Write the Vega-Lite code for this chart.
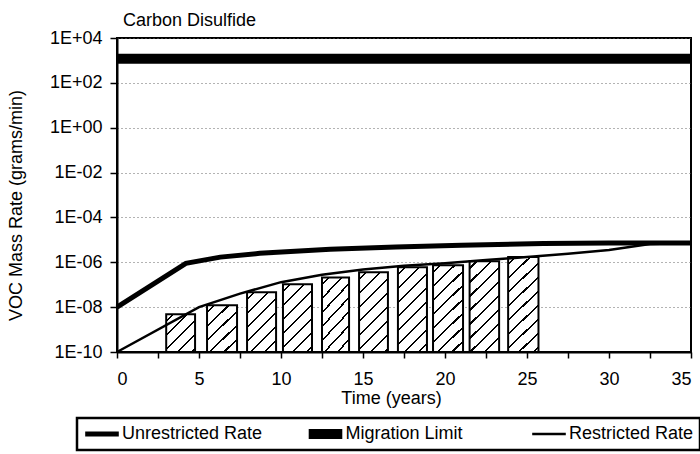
{
"$schema": "https://vega.github.io/schema/vega-lite/v6.json",
"width": 574, "height": 314,
"autosize": {"type": "none"},
"padding": {"left": 117, "top": 38, "right": 9, "bottom": 102},
"background": "white",
"title": {"text": "Carbon Disulfide", "anchor": "start", "frame": "group", "offset": 11, "baseline": "alphabetic", "dx": 6, "dy": 26, "fontSize": 18, "fontWeight": "normal", "color": "black"},
"datasets": {
"bars": [
{"id": 1, "start": 3.0, "end": 4.76, "v": 4.8e-9},
{"id": 2, "start": 5.49, "end": 7.32, "v": 1.2e-8},
{"id": 3, "start": 7.93, "end": 9.7, "v": 4.6e-8},
{"id": 4, "start": 10.12, "end": 11.89, "v": 1.05e-7},
{"id": 5, "start": 12.5, "end": 14.15, "v": 2.1e-7},
{"id": 6, "start": 14.76, "end": 16.52, "v": 3.6e-7},
{"id": 7, "start": 17.13, "end": 18.9, "v": 6.0e-7},
{"id": 8, "start": 19.27, "end": 21.1, "v": 7.4e-7},
{"id": 9, "start": 21.5, "end": 23.3, "v": 1.1e-6},
{"id": 10, "start": 23.85, "end": 25.7, "v": 1.7e-6}
],
"lines": [
{"series": "Migration Limit", "t": 0, "v": 1200},
{"series": "Migration Limit", "t": 35, "v": 1200},
{"series": "Unrestricted Rate", "t": 0, "v": 1e-8},
{"series": "Unrestricted Rate", "t": 4.2, "v": 9e-7},
{"series": "Unrestricted Rate", "t": 6.3, "v": 1.7e-6},
{"series": "Unrestricted Rate", "t": 8.7, "v": 2.5e-6},
{"series": "Unrestricted Rate", "t": 13, "v": 3.8e-6},
{"series": "Unrestricted Rate", "t": 17, "v": 4.8e-6},
{"series": "Unrestricted Rate", "t": 21, "v": 5.8e-6},
{"series": "Unrestricted Rate", "t": 26, "v": 6.8e-6},
{"series": "Unrestricted Rate", "t": 30, "v": 7.2e-6},
{"series": "Unrestricted Rate", "t": 35, "v": 7.3e-6},
{"series": "Restricted Rate", "t": 0, "v": 1e-10},
{"series": "Restricted Rate", "t": 5, "v": 1e-8},
{"series": "Restricted Rate", "t": 7.5, "v": 4e-8},
{"series": "Restricted Rate", "t": 10, "v": 1.3e-7},
{"series": "Restricted Rate", "t": 12.5, "v": 2.8e-7},
{"series": "Restricted Rate", "t": 15, "v": 4.8e-7},
{"series": "Restricted Rate", "t": 17.5, "v": 7e-7},
{"series": "Restricted Rate", "t": 20, "v": 9e-7},
{"series": "Restricted Rate", "t": 22.5, "v": 1.25e-6},
{"series": "Restricted Rate", "t": 25, "v": 1.7e-6},
{"series": "Restricted Rate", "t": 27.5, "v": 2.4e-6},
{"series": "Restricted Rate", "t": 30, "v": 3.5e-6},
{"series": "Restricted Rate", "t": 32.5, "v": 6.5e-6},
{"series": "Restricted Rate", "t": 35, "v": 7.3e-6}
]
},
"layer": [
{
"data": {"name": "bars"},
"mark": {"type": "rect", "stroke": "black", "strokeWidth": 2},
"encoding": {
"x": {"field": "start", "type": "quantitative", "scale": {"domain": [0, 35], "nice": false, "zero": false}},
"x2": {"field": "end"},
"y": {"field": "v", "type": "quantitative", "scale": {"type": "log", "domain": [1e-10, 10000], "nice": false}},
"y2": {"datum": 1e-10},
"fill": {"condition": [
{"test": "datum.id === 1", "value": {"gradient": "linear", "x1": 0, "y1": 0, "x2": 0.855, "y2": 1.112, "stops": [
{"offset": 0, "color": "#fff"},
{"offset": 0.0885, "color": "#fff"},{"offset": 0.0885, "color": "#000"},{"offset": 0.1214, "color": "#000"},{"offset": 0.1214, "color": "#fff"},
{"offset": 0.2984, "color": "#fff"},{"offset": 0.2984, "color": "#000"},{"offset": 0.3313, "color": "#000"},{"offset": 0.3313, "color": "#fff"},
{"offset": 0.5082, "color": "#fff"},{"offset": 0.5082, "color": "#000"},{"offset": 0.5412, "color": "#000"},{"offset": 0.5412, "color": "#fff"},
{"offset": 0.7181, "color": "#fff"},{"offset": 0.7181, "color": "#000"},{"offset": 0.7511, "color": "#000"},{"offset": 0.7511, "color": "#fff"},
{"offset": 0.928, "color": "#fff"},{"offset": 0.928, "color": "#000"},{"offset": 0.961, "color": "#000"},{"offset": 0.961, "color": "#fff"},
{"offset": 1, "color": "#fff"}]}},
{"test": "datum.id === 2", "value": {"gradient": "linear", "x1": 0, "y1": 0, "x2": 0.7265, "y2": 1.17, "stops": [
{"offset": 0, "color": "#fff"},
{"offset": 0.0779, "color": "#fff"},{"offset": 0.0779, "color": "#000"},{"offset": 0.107, "color": "#000"},{"offset": 0.107, "color": "#fff"},
{"offset": 0.2629, "color": "#fff"},{"offset": 0.2629, "color": "#000"},{"offset": 0.2919, "color": "#000"},{"offset": 0.2919, "color": "#fff"},
{"offset": 0.4478, "color": "#fff"},{"offset": 0.4478, "color": "#000"},{"offset": 0.4769, "color": "#000"},{"offset": 0.4769, "color": "#fff"},
{"offset": 0.6328, "color": "#fff"},{"offset": 0.6328, "color": "#000"},{"offset": 0.6618, "color": "#000"},{"offset": 0.6618, "color": "#fff"},
{"offset": 0.8177, "color": "#fff"},{"offset": 0.8177, "color": "#000"},{"offset": 0.8468, "color": "#000"},{"offset": 0.8468, "color": "#fff"},
{"offset": 1, "color": "#fff"}]}},
{"test": "datum.id === 3", "value": {"gradient": "linear", "x1": 0, "y1": 0, "x2": 0.5839, "y2": 1.2021, "stops": [
{"offset": 0, "color": "#fff"},
{"offset": 0.0665, "color": "#fff"},{"offset": 0.0665, "color": "#000"},{"offset": 0.0913, "color": "#000"},{"offset": 0.0913, "color": "#fff"},
{"offset": 0.2244, "color": "#fff"},{"offset": 0.2244, "color": "#000"},{"offset": 0.2492, "color": "#000"},{"offset": 0.2492, "color": "#fff"},
{"offset": 0.3822, "color": "#fff"},{"offset": 0.3822, "color": "#000"},{"offset": 0.407, "color": "#000"},{"offset": 0.407, "color": "#fff"},
{"offset": 0.54, "color": "#fff"},{"offset": 0.54, "color": "#000"},{"offset": 0.5648, "color": "#000"},{"offset": 0.5648, "color": "#fff"},
{"offset": 0.6979, "color": "#fff"},{"offset": 0.6979, "color": "#000"},{"offset": 0.7227, "color": "#000"},{"offset": 0.7227, "color": "#fff"},
{"offset": 0.8557, "color": "#fff"},{"offset": 0.8557, "color": "#000"},{"offset": 0.8805, "color": "#000"},{"offset": 0.8805, "color": "#fff"},
{"offset": 1, "color": "#fff"}]}},
{"test": "datum.id === 4", "value": {"gradient": "linear", "x1": 0, "y1": 0, "x2": 0.517, "y2": 1.207, "stops": [
{"offset": 0, "color": "#fff"},
{"offset": 0.061, "color": "#fff"},{"offset": 0.061, "color": "#000"},{"offset": 0.0838, "color": "#000"},{"offset": 0.0838, "color": "#fff"},
{"offset": 0.2058, "color": "#fff"},{"offset": 0.2058, "color": "#000"},{"offset": 0.2285, "color": "#000"},{"offset": 0.2285, "color": "#fff"},
{"offset": 0.3506, "color": "#fff"},{"offset": 0.3506, "color": "#000"},{"offset": 0.3733, "color": "#000"},{"offset": 0.3733, "color": "#fff"},
{"offset": 0.4953, "color": "#fff"},{"offset": 0.4953, "color": "#000"},{"offset": 0.5181, "color": "#000"},{"offset": 0.5181, "color": "#fff"},
{"offset": 0.6401, "color": "#fff"},{"offset": 0.6401, "color": "#000"},{"offset": 0.6629, "color": "#000"},{"offset": 0.6629, "color": "#fff"},
{"offset": 0.7849, "color": "#fff"},{"offset": 0.7849, "color": "#000"},{"offset": 0.8077, "color": "#000"},{"offset": 0.8077, "color": "#fff"},
{"offset": 0.9297, "color": "#fff"},{"offset": 0.9297, "color": "#000"},{"offset": 0.9524, "color": "#000"},{"offset": 0.9524, "color": "#fff"},
{"offset": 1, "color": "#fff"}]}},
{"test": "datum.id === 5", "value": {"gradient": "linear", "x1": 0, "y1": 0, "x2": 0.4697, "y2": 1.2065, "stops": [
{"offset": 0, "color": "#fff"},
{"offset": 0.057, "color": "#fff"},{"offset": 0.057, "color": "#000"},{"offset": 0.0783, "color": "#000"},{"offset": 0.0783, "color": "#fff"},
{"offset": 0.1923, "color": "#fff"},{"offset": 0.1923, "color": "#000"},{"offset": 0.2135, "color": "#000"},{"offset": 0.2135, "color": "#fff"},
{"offset": 0.3275, "color": "#fff"},{"offset": 0.3275, "color": "#000"},{"offset": 0.3488, "color": "#000"},{"offset": 0.3488, "color": "#fff"},
{"offset": 0.4628, "color": "#fff"},{"offset": 0.4628, "color": "#000"},{"offset": 0.4841, "color": "#000"},{"offset": 0.4841, "color": "#fff"},
{"offset": 0.5981, "color": "#fff"},{"offset": 0.5981, "color": "#000"},{"offset": 0.6193, "color": "#000"},{"offset": 0.6193, "color": "#fff"},
{"offset": 0.7333, "color": "#fff"},{"offset": 0.7333, "color": "#000"},{"offset": 0.7546, "color": "#000"},{"offset": 0.7546, "color": "#fff"},
{"offset": 0.8686, "color": "#fff"},{"offset": 0.8686, "color": "#000"},{"offset": 0.8899, "color": "#000"},{"offset": 0.8899, "color": "#fff"},
{"offset": 1, "color": "#fff"}]}},
{"test": "datum.id === 6", "value": {"gradient": "linear", "x1": 0, "y1": 0, "x2": 0.4377, "y2": 1.2044, "stops": [
{"offset": 0, "color": "#fff"},
{"offset": 0.0542, "color": "#fff"},{"offset": 0.0542, "color": "#000"},{"offset": 0.0744, "color": "#000"},{"offset": 0.0744, "color": "#fff"},
{"offset": 0.1829, "color": "#fff"},{"offset": 0.1829, "color": "#000"},{"offset": 0.2031, "color": "#000"},{"offset": 0.2031, "color": "#fff"},
{"offset": 0.3116, "color": "#fff"},{"offset": 0.3116, "color": "#000"},{"offset": 0.3318, "color": "#000"},{"offset": 0.3318, "color": "#fff"},
{"offset": 0.4403, "color": "#fff"},{"offset": 0.4403, "color": "#000"},{"offset": 0.4605, "color": "#000"},{"offset": 0.4605, "color": "#fff"},
{"offset": 0.5689, "color": "#fff"},{"offset": 0.5689, "color": "#000"},{"offset": 0.5892, "color": "#000"},{"offset": 0.5892, "color": "#fff"},
{"offset": 0.6976, "color": "#fff"},{"offset": 0.6976, "color": "#000"},{"offset": 0.7178, "color": "#000"},{"offset": 0.7178, "color": "#fff"},
{"offset": 0.8263, "color": "#fff"},{"offset": 0.8263, "color": "#000"},{"offset": 0.8465, "color": "#000"},{"offset": 0.8465, "color": "#fff"},
{"offset": 0.955, "color": "#fff"},{"offset": 0.955, "color": "#000"},{"offset": 0.9752, "color": "#000"},{"offset": 0.9752, "color": "#fff"},
{"offset": 1, "color": "#fff"}]}},
{"test": "datum.id === 7", "value": {"gradient": "linear", "x1": 0, "y1": 0, "x2": 0.4109, "y2": 1.2015, "stops": [
{"offset": 0, "color": "#fff"},
{"offset": 0.0518, "color": "#fff"},{"offset": 0.0518, "color": "#000"},{"offset": 0.0712, "color": "#000"},{"offset": 0.0712, "color": "#fff"},
{"offset": 0.1749, "color": "#fff"},{"offset": 0.1749, "color": "#000"},{"offset": 0.1942, "color": "#000"},{"offset": 0.1942, "color": "#fff"},
{"offset": 0.2979, "color": "#fff"},{"offset": 0.2979, "color": "#000"},{"offset": 0.3172, "color": "#000"},{"offset": 0.3172, "color": "#fff"},
{"offset": 0.4209, "color": "#fff"},{"offset": 0.4209, "color": "#000"},{"offset": 0.4402, "color": "#000"},{"offset": 0.4402, "color": "#fff"},
{"offset": 0.5439, "color": "#fff"},{"offset": 0.5439, "color": "#000"},{"offset": 0.5633, "color": "#000"},{"offset": 0.5633, "color": "#fff"},
{"offset": 0.667, "color": "#fff"},{"offset": 0.667, "color": "#000"},{"offset": 0.6863, "color": "#000"},{"offset": 0.6863, "color": "#fff"},
{"offset": 0.79, "color": "#fff"},{"offset": 0.79, "color": "#000"},{"offset": 0.8093, "color": "#000"},{"offset": 0.8093, "color": "#fff"},
{"offset": 0.913, "color": "#fff"},{"offset": 0.913, "color": "#000"},{"offset": 0.9323, "color": "#000"},{"offset": 0.9323, "color": "#fff"},
{"offset": 1, "color": "#fff"}]}},
{"test": "datum.id === 8", "value": {"gradient": "linear", "x1": 0, "y1": 0, "x2": 0.401, "y2": 1.2001, "stops": [
{"offset": 0, "color": "#fff"},
{"offset": 0.0509, "color": "#fff"},{"offset": 0.0509, "color": "#000"},{"offset": 0.0699, "color": "#000"},{"offset": 0.0699, "color": "#fff"},
{"offset": 0.1718, "color": "#fff"},{"offset": 0.1718, "color": "#000"},{"offset": 0.1908, "color": "#000"},{"offset": 0.1908, "color": "#fff"},
{"offset": 0.2927, "color": "#fff"},{"offset": 0.2927, "color": "#000"},{"offset": 0.3117, "color": "#000"},{"offset": 0.3117, "color": "#fff"},
{"offset": 0.4136, "color": "#fff"},{"offset": 0.4136, "color": "#000"},{"offset": 0.4326, "color": "#000"},{"offset": 0.4326, "color": "#fff"},
{"offset": 0.5345, "color": "#fff"},{"offset": 0.5345, "color": "#000"},{"offset": 0.5535, "color": "#000"},{"offset": 0.5535, "color": "#fff"},
{"offset": 0.6554, "color": "#fff"},{"offset": 0.6554, "color": "#000"},{"offset": 0.6744, "color": "#000"},{"offset": 0.6744, "color": "#fff"},
{"offset": 0.7763, "color": "#fff"},{"offset": 0.7763, "color": "#000"},{"offset": 0.7953, "color": "#000"},{"offset": 0.7953, "color": "#fff"},
{"offset": 0.8972, "color": "#fff"},{"offset": 0.8972, "color": "#000"},{"offset": 0.9162, "color": "#000"},{"offset": 0.9162, "color": "#fff"},
{"offset": 1, "color": "#fff"}]}},
{"test": "datum.id === 9", "value": {"gradient": "linear", "x1": 0, "y1": 0, "x2": 0.3833, "y2": 1.1975, "stops": [
{"offset": 0, "color": "#fff"},
{"offset": 0.0493, "color": "#fff"},{"offset": 0.0493, "color": "#000"},{"offset": 0.0677, "color": "#000"},{"offset": 0.0677, "color": "#fff"},
{"offset": 0.1664, "color": "#fff"},{"offset": 0.1664, "color": "#000"},{"offset": 0.1848, "color": "#000"},{"offset": 0.1848, "color": "#fff"},
{"offset": 0.2834, "color": "#fff"},{"offset": 0.2834, "color": "#000"},{"offset": 0.3018, "color": "#000"},{"offset": 0.3018, "color": "#fff"},
{"offset": 0.4005, "color": "#fff"},{"offset": 0.4005, "color": "#000"},{"offset": 0.4189, "color": "#000"},{"offset": 0.4189, "color": "#fff"},
{"offset": 0.5176, "color": "#fff"},{"offset": 0.5176, "color": "#000"},{"offset": 0.536, "color": "#000"},{"offset": 0.536, "color": "#fff"},
{"offset": 0.6346, "color": "#fff"},{"offset": 0.6346, "color": "#000"},{"offset": 0.653, "color": "#000"},{"offset": 0.653, "color": "#fff"},
{"offset": 0.7517, "color": "#fff"},{"offset": 0.7517, "color": "#000"},{"offset": 0.7701, "color": "#000"},{"offset": 0.7701, "color": "#fff"},
{"offset": 0.8687, "color": "#fff"},{"offset": 0.8687, "color": "#000"},{"offset": 0.8871, "color": "#000"},{"offset": 0.8871, "color": "#fff"},
{"offset": 1, "color": "#fff"}]}},
{"test": "datum.id === 10", "value": {"gradient": "linear", "x1": 0, "y1": 0, "x2": 0.3649, "y2": 1.1941, "stops": [
{"offset": 0, "color": "#fff"},
{"offset": 0.0476, "color": "#fff"},{"offset": 0.0476, "color": "#000"},{"offset": 0.0654, "color": "#000"},{"offset": 0.0654, "color": "#fff"},
{"offset": 0.1606, "color": "#fff"},{"offset": 0.1606, "color": "#000"},{"offset": 0.1784, "color": "#000"},{"offset": 0.1784, "color": "#fff"},
{"offset": 0.2736, "color": "#fff"},{"offset": 0.2736, "color": "#000"},{"offset": 0.2914, "color": "#000"},{"offset": 0.2914, "color": "#fff"},
{"offset": 0.3866, "color": "#fff"},{"offset": 0.3866, "color": "#000"},{"offset": 0.4044, "color": "#000"},{"offset": 0.4044, "color": "#fff"},
{"offset": 0.4996, "color": "#fff"},{"offset": 0.4996, "color": "#000"},{"offset": 0.5174, "color": "#000"},{"offset": 0.5174, "color": "#fff"},
{"offset": 0.6126, "color": "#fff"},{"offset": 0.6126, "color": "#000"},{"offset": 0.6304, "color": "#000"},{"offset": 0.6304, "color": "#fff"},
{"offset": 0.7256, "color": "#fff"},{"offset": 0.7256, "color": "#000"},{"offset": 0.7433, "color": "#000"},{"offset": 0.7433, "color": "#fff"},
{"offset": 0.8386, "color": "#fff"},{"offset": 0.8386, "color": "#000"},{"offset": 0.8563, "color": "#000"},{"offset": 0.8563, "color": "#fff"},
{"offset": 0.9516, "color": "#fff"},{"offset": 0.9516, "color": "#000"},{"offset": 0.9693, "color": "#000"},{"offset": 0.9693, "color": "#fff"},
{"offset": 1, "color": "#fff"}]}}
], "value": "white"}
}
},
{
"data": {"name": "lines"},
"mark": {"type": "line", "clip": false, "strokeCap": "butt"},
"encoding": {
"x": {"field": "t", "type": "quantitative", "scale": {"domain": [0, 35], "nice": false, "zero": false},
  "axis": {"title": "Time (years)", "values": [0, 2.5, 5, 7.5, 10, 12.5, 15, 17.5, 20, 22.5, 25, 27.5, 30, 32.5, 35],
    "labelExpr": "datum.value % 5 === 0 ? datum.label : ''", "labelOverlap": false, "grid": false,
    "tickSize": 6, "labelPadding": 12, "titleX": 274, "titleY": 51, "titleBaseline": "alphabetic"}},
"y": {"field": "v", "type": "quantitative", "scale": {"type": "log", "domain": [1e-10, 10000], "nice": false},
  "axis": {"title": "VOC Mass Rate (grams/min)", "values": [1e-10, 1e-8, 1e-6, 1e-4, 0.01, 1, 100, 10000],
    "labelExpr": "'1E' + (round(log(datum.value)/LN10) < 0 ? '-' : '+') + (abs(round(log(datum.value)/LN10)) < 10 ? '0' : '') + abs(round(log(datum.value)/LN10))",
    "labelOverlap": false, "grid": true, "gridDash": [1, 3], "gridColor": "#666", "gridWidth": 1,
    "tickSize": 7, "labelPadding": 8, "titleX": -96, "titleY": 167, "titleBaseline": "alphabetic"}},
"stroke": {"field": "series", "type": "nominal", "scale": {"domain": ["Unrestricted Rate", "Migration Limit", "Restricted Rate"], "range": ["black", "black", "black"]},
  "legend": {"title": null, "clipHeight": 20, "encode": {"symbols": {"update": {"strokeWidth": {"scale": "strokeWidth", "field": "value"}}}}}},
"strokeWidth": {"field": "series", "type": "nominal", "scale": {"type": "ordinal", "domain": ["Unrestricted Rate", "Migration Limit", "Restricted Rate"], "range": [5, 10, 2.5]}, "legend": null}
}
}
],
"config": {
"font": "Liberation Sans, Arial, sans-serif",
"view": {"stroke": "black", "strokeWidth": 2},
"axis": {"domainColor": "black", "domainWidth": 2, "tickColor": "black", "tickWidth": 1.5, "labelColor": "black", "labelFontSize": 18, "titleFontSize": 18, "titleFontWeight": "normal", "titleColor": "black"},
"legend": {"orient": "none", "legendX": -40, "legendY": 380, "direction": "horizontal", "labelFontSize": 18, "labelColor": "black", "symbolSize": 64, "symbolType": "M-4.2,0H4.2", "symbolOffset": 10, "labelOffset": 11, "gridAlign": "all", "columnPadding": 43.5, "padding": 6, "strokeColor": "black", "strokeWidth": 2.5}
}
}
